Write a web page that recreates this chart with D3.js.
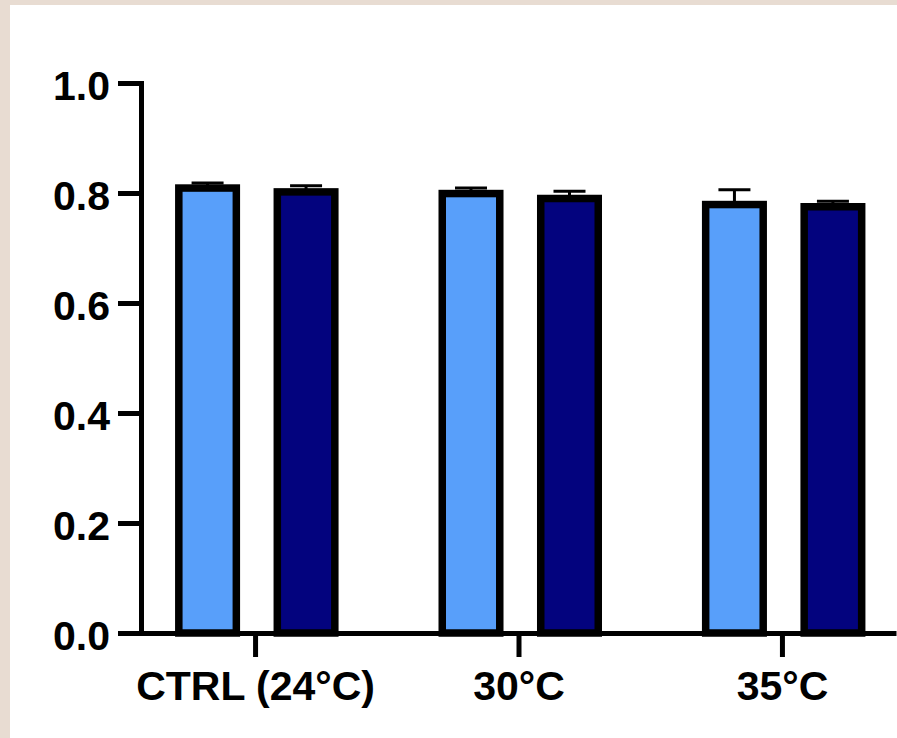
<!DOCTYPE html>
<html>
<head>
<meta charset="utf-8">
<script src="https://cdn.jsdelivr.net/npm/d3@7/dist/d3.min.js"></script>
<style>
  html, body { margin: 0; padding: 0; background: #ffffff; }
  svg { display: block; }
  .axis text { font-family: "Liberation Sans", Arial, sans-serif; font-weight: bold; font-size: 41px; fill: #000; }
</style>
</head>
<body>
<svg id="chart" width="897" height="738"></svg>
<script>
// ---- data ----
const categories = ["CTRL (24°C)", "30°C", "35°C"];
const seriesNames = ["A", "B"];
const seriesLight = [0.809, 0.799, 0.779];     // light blue bars
const seriesDark  = [0.802, 0.790, 0.775];     // navy bars
const errLight    = [0.009, 0.010, 0.027];
const errDark     = [0.011, 0.013, 0.010];
const yTickValues = [0.0, 0.2, 0.4, 0.6, 0.8, 1.0];
const seriesColors = ["#589ffa", "#03037e"];

const svg = d3.select("#chart");
const W = 897, H = 738;

// background frame
svg.append("rect").attr("x", 0).attr("y", 0).attr("width", W).attr("height", H).attr("fill", "#e8dcd2");
svg.append("rect").attr("x", 10).attr("y", 5).attr("width", W - 10).attr("height", H - 5).attr("fill", "#ffffff");

const x0 = 141, x1 = 896, yBottom = 633, yTop = 83;

const y = d3.scaleLinear().domain([0, 1]).range([yBottom, yTop]);
const x = d3.scalePoint().domain(categories).range([x0, x1]).padding(0.433);
const xs = d3.scaleBand().domain(seriesNames).range([-76.25, 79.75]).paddingInner(0.416).paddingOuter(0);

const rows = [];
categories.forEach((c, i) => {
  rows.push({cat: c, s: "A", v: seriesLight[i], e: errLight[i], color: seriesColors[0]});
  rows.push({cat: c, s: "B", v: seriesDark[i], e: errDark[i], color: seriesColors[1]});
});

const g = svg.append("g");

// error bars
const eb = g.selectAll("g.err").data(rows).enter().append("g").attr("class", "err");
eb.append("line")
  .attr("x1", d => x(d.cat) + xs(d.s) + xs.bandwidth() / 2)
  .attr("x2", d => x(d.cat) + xs(d.s) + xs.bandwidth() / 2)
  .attr("y1", d => y(d.v))
  .attr("y2", d => y(d.v + d.e))
  .attr("stroke", "#000").attr("stroke-width", 3);
eb.append("line")
  .attr("x1", d => x(d.cat) + xs(d.s) + xs.bandwidth() / 2 - 16)
  .attr("x2", d => x(d.cat) + xs(d.s) + xs.bandwidth() / 2 + 16)
  .attr("y1", d => y(d.v + d.e))
  .attr("y2", d => y(d.v + d.e))
  .attr("stroke", "#000").attr("stroke-width", 3);

// bars
g.selectAll("rect.bar").data(rows).enter().append("rect")
  .attr("class", "bar")
  .attr("x", d => x(d.cat) + xs(d.s))
  .attr("width", xs.bandwidth())
  .attr("y", d => y(d.v))
  .attr("height", d => y(0) - y(d.v))
  .attr("fill", d => d.color)
  .attr("stroke", "#000")
  .attr("stroke-width", 7.5);

// y axis
const yAxis = svg.append("g").attr("class", "axis")
  .attr("transform", `translate(${x0},0)`)
  .call(d3.axisLeft(y).tickValues(yTickValues).tickFormat(d3.format(".1f")).tickSize(23).tickSizeOuter(0).tickPadding(8));
yAxis.select(".domain").attr("stroke", "#000").attr("stroke-width", 5).attr("stroke-linecap", "square");
yAxis.selectAll(".tick line").attr("stroke", "#000").attr("stroke-width", 5);
yAxis.selectAll(".tick text").attr("dy", "0.41em");

// x axis
const xAxis = svg.append("g").attr("class", "axis")
  .attr("transform", `translate(0,${yBottom})`)
  .call(d3.axisBottom(x).tickSize(24).tickSizeOuter(0).tickPadding(14));
xAxis.select(".domain").attr("stroke", "#000").attr("stroke-width", 5);
xAxis.selectAll(".tick line").attr("stroke", "#000").attr("stroke-width", 5);
svg.selectAll(".axis").attr("font-family", null).attr("font-size", null);
</script>
</body>
</html>
